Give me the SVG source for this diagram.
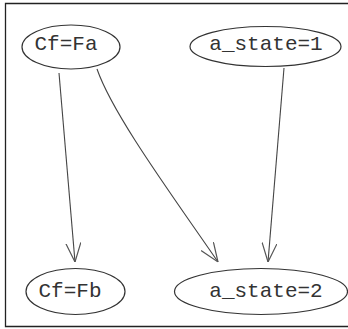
<svg xmlns="http://www.w3.org/2000/svg" width="348" height="329" viewBox="0 0 348 329">
  <style>
    .node ellipse { fill: #ffffff; stroke: #333333; stroke-width: 1.2; }
    .node text { font-family: "Liberation Mono", "Courier New", monospace; font-size: 21px; fill: #333333; text-anchor: middle; }
    .edge { fill: none; stroke: #444444; stroke-width: 1.1; marker-end: url(#arrow); }
  </style>
  <defs>
    <marker id="arrow" viewBox="0 0 19 16" refX="19" refY="8" markerWidth="19" markerHeight="16" markerUnits="userSpaceOnUse" orient="auto">
      <path d="M0,0.5 L19,8 L0,15.5" fill="none" stroke="#555555" stroke-width="1.2"/>
    </marker>
  </defs>

  <!-- frame -->
  <rect x="0" y="0" width="348" height="329" fill="#ffffff"/>
  <path d="M360,3.5 H5.5 V326.5 H360" fill="none" stroke="#222222" stroke-width="1.3"/>

  <!-- connectors -->
  <g id="edges">
    <path class="edge" d="M59,73 L75,262"/>
    <path class="edge" d="M97,69 C113,115 172,195 218,262"/>
    <path class="edge" d="M284,68 L268,262"/>
  </g>

  <g id="node-cf-fa" class="node">
    <ellipse cx="71" cy="47" rx="49" ry="22"/>
    <text x="66" y="49.5">Cf=Fa</text>
  </g>
  <g id="node-a-state-1" class="node">
    <ellipse cx="265.5" cy="46.5" rx="75.5" ry="20"/>
    <text x="266" y="49.5">a_state=1</text>
  </g>
  <g id="node-cf-fb" class="node">
    <ellipse cx="75.5" cy="291.5" rx="49.5" ry="23"/>
    <text x="70" y="297">Cf=Fb</text>
  </g>
  <g id="node-a-state-2" class="node">
    <ellipse cx="261" cy="291.5" rx="86.5" ry="23"/>
    <text x="266" y="297">a_state=2</text>
  </g>
</svg>
